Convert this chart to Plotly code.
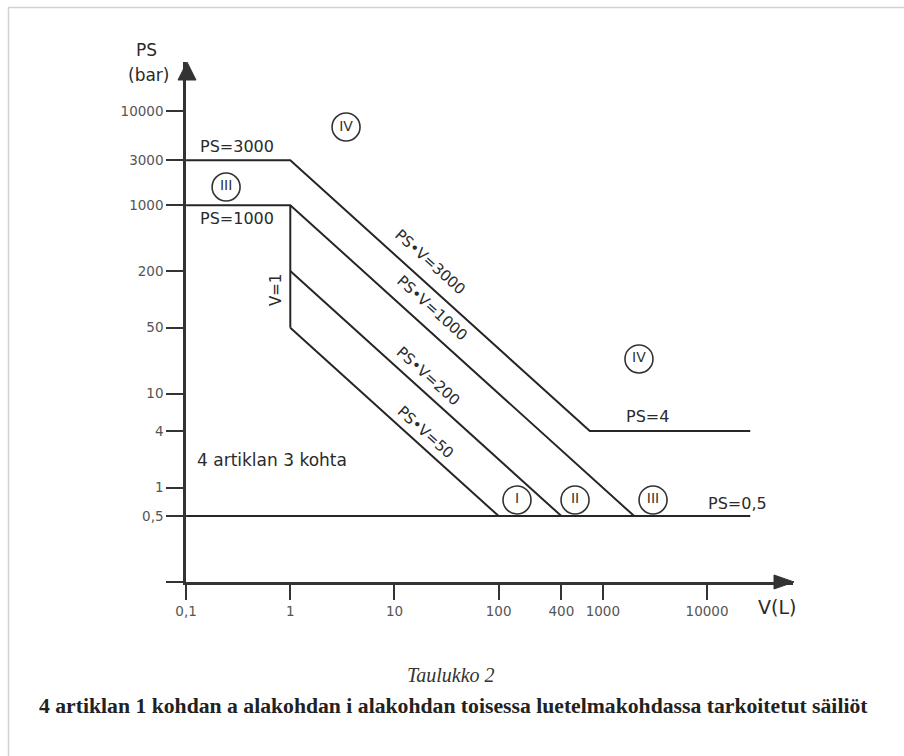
import math
import plotly.graph_objects as go

# ---------------- data ----------------
x_tick_vals = [0.1, 1, 10, 100, 400, 1000, 10000]
x_tick_text = ["0,1", "1", "10", "100", "400", "1000", "10000"]
y_tick_vals = [0.1, 0.5, 1, 4, 10, 50, 200, 1000, 3000, 10000]
y_tick_text = ["", "0,5", "1", "4", "10", "50", "200", "1000", "3000", "10000"]

# boundary lines (V in litres, PS in bar)
b3000_v = [0.1, 1, 750, 26000]
b3000_ps = [3000, 3000, 4, 4]
b1000_v = [0.1, 1, 2000]
b1000_ps = [1000, 1000, 0.5]
v1_v = [1, 1]
v1_ps = [1000, 50]
pv200_v = [1, 400]
pv200_ps = [200, 0.5]
pv50_v = [1, 100]
pv50_ps = [50, 0.5]
ps05_v = [0.1, 26000]
ps05_ps = [0.5, 0.5]

# category markers (circled roman numerals)
cat_text = ["IV", "III", "IV", "I", "II", "III"]
cat_v = [3.43, 0.242, 2223, 150, 541, 3034]
cat_ps = [6761, 1560, 23.3, 0.742, 0.742, 0.742]

# line labels: text, V, PS, angle
line_labels = [
    ("PS=3000", 0.309, 4150, 0),
    ("PS=1000", 0.309, 714, 0),
    ("V=1", 0.731, 126, -90),
    ("PS•V=3000", 21.97, 249, 42),
    ("PS•V=1000", 22.96, 81.0, 42),
    ("PS•V=200", 21.0, 15.4, 42),
    ("PS•V=50", 19.7, 3.91, 42),
    ("PS=4", 2654, 5.64, 0),
    ("PS=0,5", 19400, 0.673, 0),
    ("4 artiklan 3 kohta", 0.669, 1.97, 0),
]

caption_title = "Taulukko 2"
caption_text = "4 artiklan 1 kohdan a alakohdan i alakohdan toisessa luetelmakohdassa tarkoitetut säiliöt"

# ---------------- layout geometry ----------------
W, H = 904, 756
L, R, T, B = 186, 111, 62, 174
PW = W - L - R
PH = H - T - B
X_DEC = 104.2
Y_DEC = 94.2


def px(x):
    return (x - L) / PW


def py(y):
    return (H - B - y) / PH


LINE = "#262626"
AX = "#333333"
SANS = "DejaVu Sans"

fig = go.Figure()
for xs, ys in [(b3000_v, b3000_ps), (b1000_v, b1000_ps), (v1_v, v1_ps),
               (pv200_v, pv200_ps), (pv50_v, pv50_ps), (ps05_v, ps05_ps)]:
    fig.add_trace(go.Scatter(x=xs, y=ys, mode="lines",
                             line=dict(color=LINE, width=2),
                             hoverinfo="skip", showlegend=False,
                             cliponaxis=False))

fig.add_trace(go.Scatter(
    x=cat_v, y=cat_ps, mode="markers+text", text=cat_text,
    textposition="middle center",
    textfont=dict(family=SANS, size=14, color="#333"),
    marker=dict(symbol="circle-open", size=28, color="#333",
                line=dict(width=1.6, color="#333")),
    showlegend=False, hoverinfo="skip", cliponaxis=False))

annotations = []
for txt, v, ps, ang in line_labels:
    annotations.append(dict(
        x=math.log10(v), y=math.log10(ps), xref="x", yref="y",
        text=txt, showarrow=False, textangle=ang,
        xanchor="center", yanchor="middle",
        font=dict(family=SANS, size=16 if ang == 0 else 15, color="#2a2a2a")))
annotations[-1]["font"]["size"] = 17

# axis titles and caption
annotations += [
    dict(x=px(146), y=py(50), xref="paper", yref="paper", text="PS",
         showarrow=False, font=dict(family=SANS, size=17, color="#2a2a2a"),
         xanchor="center", yanchor="middle"),
    dict(x=px(148), y=py(75), xref="paper", yref="paper", text="(bar)",
         showarrow=False, font=dict(family=SANS, size=17, color="#2a2a2a"),
         xanchor="center", yanchor="middle"),
    dict(x=px(777), y=py(607), xref="paper", yref="paper", text="V(L)",
         showarrow=False, font=dict(family=SANS, size=19, color="#2a2a2a"),
         xanchor="center", yanchor="middle"),
    dict(x=px(451), y=py(675), xref="paper", yref="paper",
         text="<i>" + caption_title + "</i>", showarrow=False,
         font=dict(family="Liberation Serif", size=20, color="#333"),
         xanchor="center", yanchor="middle"),
    dict(x=px(453), y=py(706), xref="paper", yref="paper",
         text="<b>" + caption_text + "</b>", showarrow=False,
         font=dict(family="Liberation Serif", size=21.7, color="#222"),
         xanchor="center", yanchor="middle"),
]

shapes = [
    # frame (top and left)
    dict(type="line", xref="paper", yref="paper", x0=px(8), y0=py(7.5),
         x1=px(904), y1=py(7.5), line=dict(color="#d2d2d2", width=1.5)),
    dict(type="line", xref="paper", yref="paper", x0=px(8.5), y0=py(7),
         x1=px(8.5), y1=py(756), line=dict(color="#d2d2d2", width=1.5)),
    # arrow heads
    dict(type="path", xref="paper", yref="paper",
         path=f"M {px(187)},{py(62)} L {px(178)},{py(80)} L {px(196)},{py(80)} Z",
         fillcolor=AX, line=dict(color=AX, width=1)),
    dict(type="path", xref="paper", yref="paper",
         path=f"M {px(794)},{py(582)} L {px(774)},{py(575)} L {px(774)},{py(589)} Z",
         fillcolor=AX, line=dict(color=AX, width=1)),
]

fig.update_layout(
    width=W, height=H,
    margin=dict(l=L, r=R, t=T, b=B, pad=0),
    paper_bgcolor="white", plot_bgcolor="white",
    annotations=annotations, shapes=shapes,
    xaxis=dict(type="log", range=[-1.001, -1 + PW / X_DEC],
               tickvals=x_tick_vals, ticktext=x_tick_text,
               showline=True, linewidth=2.5, linecolor=AX, mirror=False,
               ticks="outside", ticklen=15, tickwidth=2, tickcolor=AX,
               showgrid=False, zeroline=False,
               tickfont=dict(family=SANS, size=13.5, color="#555")),
    yaxis=dict(type="log", range=[-1.001, -1 + PH / Y_DEC],
               tickvals=y_tick_vals, ticktext=y_tick_text,
               showline=True, linewidth=2.5, linecolor=AX, mirror=False,
               ticks="outside", ticklen=17, tickwidth=2, tickcolor=AX,
               showgrid=False, zeroline=False,
               tickfont=dict(family=SANS, size=13.5, color="#555")),
)

fig.write_html(
    "out.html",
    config={"displayModeBar": False},
    post_script="document.body.style.margin='0';document.body.style.overflow='hidden';",
)
